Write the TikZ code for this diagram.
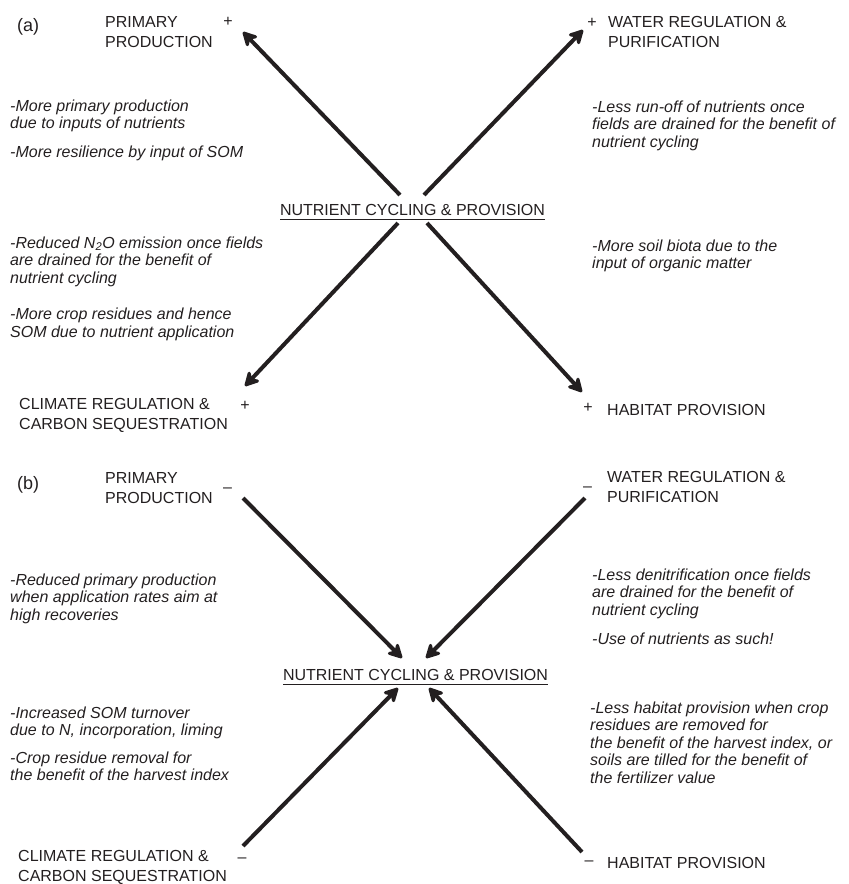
\documentclass[tikz,border=0pt]{standalone}
\usepackage{fontspec}
\setmainfont{Liberation Sans}
\usetikzlibrary{arrows.meta}
\definecolor{ink}{HTML}{231F20}
\newcommand{\ulined}[1]{\setbox0=\hbox{#1}\rlap{\rule[-4.5pt]{\wd0}{1pt}}\box0}
\begin{document}
\begin{tikzpicture}[x=1pt,y=-1pt,
    lab/.style={anchor=north west,inner sep=0pt,align=left,text=ink,font=\fontsize{16}{19.5}\selectfont},
    note/.style={anchor=north west,inner sep=0pt,align=left,text=ink,font=\fontsize{16}{17.5}\selectfont\itshape},
    sign/.style={anchor=base,inner sep=0pt,text=ink,font=\fontsize{16}{19.5}\selectfont},
    tag/.style={anchor=base west,inner sep=0pt,text=ink,font=\fontsize{18}{20}\selectfont},
    hub/.style={anchor=base,inner sep=0pt,text=ink,font=\fontsize{16}{19.5}\selectfont},
    arr/.style={draw=ink,line width=4pt,-{Stealth[length=18pt,width=19pt,inset=6pt,round]}}
  ]
  \useasboundingbox (0,0) rectangle (849,884);

  \node[tag] (tagA) at (17,31) {(a)};
  \node[lab] (ppA) at (105,16.4) {PRIMARY\\PRODUCTION};
  \node[lab] (wrA) at (608,16.4) {WATER REGULATION \&\\PURIFICATION};
  \node[lab] (crA) at (19,398.4) {CLIMATE REGULATION \&\\CARBON SEQUESTRATION};
  \node[lab,anchor=base west] (hpA) at (607,415) {HABITAT PROVISION};
  \node[hub] (ncA) at (412.5,215) {\ulined{NUTRIENT CYCLING \& PROVISION}};
  \node[sign] (ppAsign) at (228,26.6) {+};
  \node[sign] (wrAsign) at (592,27.6) {+};
  \node[sign] (crAsign) at (245,410.6) {+};
  \node[sign] (hpAsign) at (588,412.6) {+};
  \node[note] (noteA1) at (10,99.4) {-More primary production\\due to inputs of nutrients\\[11pt]-More resilience by input of SOM};
  \node[note] (noteA2) at (592,100.4) {-Less run-off of nutrients once\\fields are drained for the benefit of\\nutrient cycling};
  \node[note] (noteA3) at (10,236.4) {-Reduced N\textsubscript{2}O emission once fields\\are drained for the benefit of\\nutrient cycling\\[19pt]-More crop residues and hence\\SOM due to nutrient application};
  \node[note] (noteA4) at (592,239.4) {-More soil biota due to the\\input of organic matter};
  \coordinate (ppAhead) at (243,32);
  \coordinate (wrAhead) at (583,30);
  \coordinate (crAhead) at (245,386);
  \coordinate (hpAhead) at (582,392);
  \draw[arr] ([xshift=-12.5pt,yshift=20pt]ncA.base) -- (ppAhead);
  \draw[arr] ([xshift=11.5pt,yshift=20pt]ncA.base) -- (wrAhead);
  \draw[arr] ([xshift=-14.5pt,yshift=-8pt]ncA.base) -- (crAhead);
  \draw[arr] ([xshift=14.5pt,yshift=-8pt]ncA.base) -- (hpAhead);

  \node[tag] (tagB) at (17,489) {(b)};
  \node[lab] (ppB) at (105,472.4) {PRIMARY\\PRODUCTION};
  \node[lab] (wrB) at (607,471.4) {WATER REGULATION \&\\PURIFICATION};
  \node[lab] (crB) at (18,850.4) {CLIMATE REGULATION \&\\CARBON SEQUESTRATION};
  \node[lab,anchor=base west] (hpB) at (607,868) {HABITAT PROVISION};
  \node[hub] (ncB) at (415.5,680) {\ulined{NUTRIENT CYCLING \& PROVISION}};
  \node[sign] (ppBsign) at (227.5,492.4) {–};
  \node[sign] (wrBsign) at (587.5,491.4) {–};
  \node[sign] (crBsign) at (242,862.4) {–};
  \node[sign] (hpBsign) at (589,865.4) {–};
  \node[note] (noteB1) at (10,573.4) {-Reduced primary production\\when application rates aim at\\high recoveries};
  \node[note] (noteB2) at (592,568.4) {-Less denitrification once fields\\are drained for the benefit of\\nutrient cycling\\[12pt]-Use of nutrients as such!};
  \node[note] (noteB3) at (10,706.4) {-Increased SOM turnover\\due to N, incorporation, liming\\[10pt]-Crop residue removal for\\the benefit of the harvest index};
  \node[note] (noteB4) at (590,701.4) {-Less habitat provision when crop\\residues are removed for\\the benefit of the harvest index, or\\soils are tilled for the benefit of\\the fertilizer value};
  \coordinate (ppBtail) at (243,498);
  \coordinate (wrBtail) at (585,498);
  \coordinate (crBtail) at (243,846);
  \coordinate (hpBtail) at (582,852);
  \draw[arr] (ppBtail) -- ([xshift=-13.5pt,yshift=22pt]ncB.base);
  \draw[arr] (wrBtail) -- ([xshift=10.5pt,yshift=22pt]ncB.base);
  \draw[arr] (crBtail) -- ([xshift=-17.5pt,yshift=-8pt]ncB.base);
  \draw[arr] (hpBtail) -- ([xshift=13.5pt,yshift=-8pt]ncB.base);
\end{tikzpicture}
\end{document}
